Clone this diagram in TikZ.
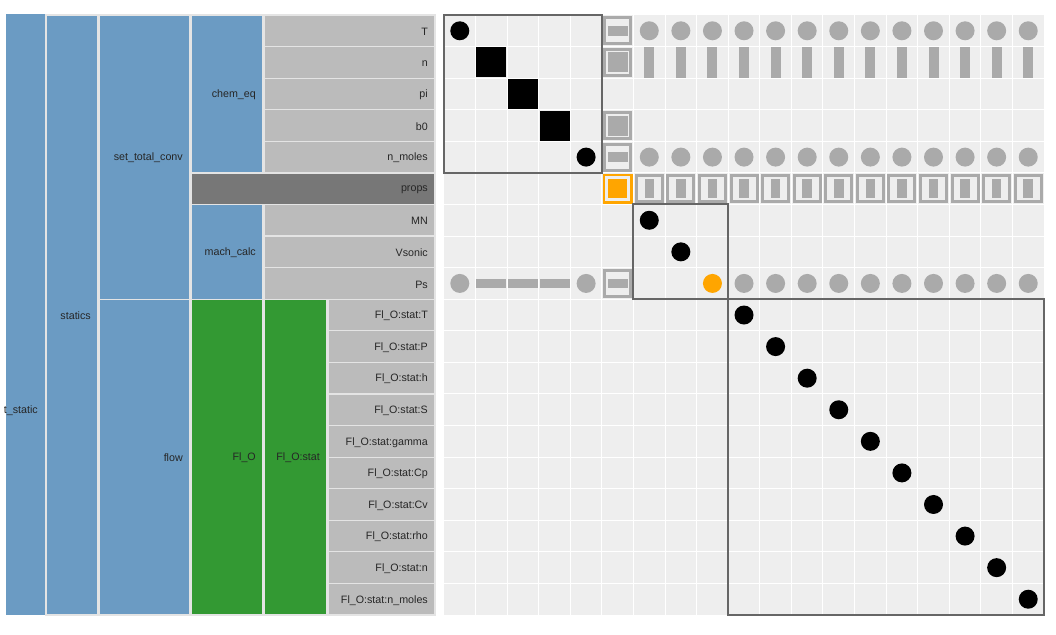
\documentclass[tikz,border=0pt]{standalone}
\usepackage{fontspec}
\setmainfont{Liberation Sans}
\usetikzlibrary{positioning}
\definecolor{treeblue}{HTML}{6B9BC3}
\definecolor{treegreen}{HTML}{339933}
\definecolor{vargrey}{HTML}{BBBBBB}
\definecolor{propgrey}{HTML}{777777}
\definecolor{cellgrey}{HTML}{EEEEEE}
\definecolor{markgrey}{HTML}{AAAAAA}
\definecolor{boxgrey}{HTML}{666666}
\definecolor{sysorange}{HTML}{FFA500}
\definecolor{sepgrey}{HTML}{E4E4E4}
\tikzset{
  treelabel/.style={font=\fontsize{10.7}{12}\selectfont, text=black!85, inner sep=0pt},
  dotblack/.style={circle, fill=black, minimum size=19pt, inner sep=0pt},
  dotgrey/.style={circle, fill=markgrey, minimum size=19pt, inner sep=0pt},
  dotorange/.style={circle, fill=sysorange, minimum size=19pt, inner sep=0pt},
  blacksq/.style={rectangle, fill=black, minimum size=30pt, inner sep=0pt},
  hbar/.style={rectangle, fill=markgrey, minimum width=20pt, minimum height=9.5pt, inner sep=0pt},
  longbar/.style={rectangle, fill=markgrey, minimum width=30pt, minimum height=9.5pt, inner sep=0pt},
  vbar/.style={rectangle, fill=markgrey, minimum width=10pt, minimum height=30.5pt, inner sep=0pt},
  shortvbar/.style={rectangle, fill=markgrey, minimum width=9.5pt, minimum height=19pt, inner sep=0pt},
  greysq/.style={rectangle, fill=markgrey, minimum size=20pt, inner sep=0pt},
  framebox/.style={rectangle, draw=markgrey, line width=3pt, fill=cellgrey, minimum size=26pt, inner sep=0pt},
  orangebox/.style={rectangle, draw=sysorange, line width=2.5pt, fill=cellgrey, minimum size=27.5pt, inner sep=0pt},
  orangesq/.style={rectangle, fill=sysorange, minimum size=19pt, inner sep=0pt},
  diagbox/.style={draw=boxgrey, line width=2pt}
}
% tree block: name, x left, x right, first row, end row, fill, label
\newcommand{\treebox}[7]{%
  \path[fill=#6, draw=sepgrey, line width=1.2pt] (#2,{15+31.58*(#4)}) rectangle (#3,{15+31.58*(#5)});
  \node[treelabel, anchor=east] (#1) at ({#3-7},{16+31.58*((#4)+(#5))/2}) {#7};}

\begin{document}
\begin{tikzpicture}[x=1pt, y=-1pt]
  \useasboundingbox (0,0) rectangle (1056,634);

  % model tree
  \fill[treeblue] (6,14) rectangle (45,615);
  \begin{scope}
    \clip (4,0) rectangle (45,634);
    \node[treelabel, anchor=east] (root) at (38,411) {t\_static};
  \end{scope}
  \treebox{statics}{46}{98}{0}{19}{treeblue}{statics}
  \treebox{conv}{99}{190}{0}{9}{treeblue}{set\_total\_conv}
  \treebox{flow}{99}{190}{9}{19}{treeblue}{flow}
  \treebox{chem}{191}{263}{0}{5}{treeblue}{chem\_eq}
  \treebox{props}{191}{435}{5}{6}{propgrey}{props}
  \treebox{mach}{191}{263}{6}{9}{treeblue}{mach\_calc}
  \treebox{flo}{191}{263}{9}{19}{treegreen}{Fl\_O}
  \treebox{flostat}{264}{327}{9}{19}{treegreen}{Fl\_O:stat}
  \foreach \lbl [count=\r from 0] in {T,n,pi,b0,n\_moles}
    {\treebox{v\r}{264}{435}{\r}{\r+1}{vargrey}{\lbl}}
  \foreach \lbl [count=\r from 6] in {MN,Vsonic,Ps}
    {\treebox{v\r}{264}{435}{\r}{\r+1}{vargrey}{\lbl}}
  \foreach \lbl [count=\r from 9] in {T,P,h,S,gamma,Cp,Cv,rho,n,n\_moles}
    {\treebox{v\r}{328}{435}{\r}{\r+1}{vargrey}{Fl\_O:stat:\lbl}}

  % N2 matrix
  \begin{scope}[shift={(444,15)}, x=31.58pt, y=-31.58pt]
    \fill[cellgrey] (0,0) rectangle (19,19);
    \foreach \k in {1,...,18} {
      \draw[white, line width=1pt] (\k,0) -- (\k,19);
      \draw[white, line width=1pt] (0,\k) -- (19,\k);
    }

    % T
    \node[dotblack] (d0) at (0.5,0.5) {};
    \node[framebox] (f0) at (5.5,0.5) {};
    \node[hbar] at (f0) {};
    \foreach \c in {6,...,18} \node[dotgrey] (t\c) at (\c+0.5,0.5) {};
    % n
    \node[blacksq] (d1) at (1.5,1.5) {};
    \node[framebox] (f1) at (5.5,1.5) {};
    \node[greysq] at (f1) {};
    \foreach \c in {6,...,18} \node[vbar] (n\c) at (\c+0.5,1.5) {};
    % pi, b0
    \node[blacksq] (d2) at (2.5,2.5) {};
    \node[blacksq] (d3) at (3.5,3.5) {};
    \node[framebox] (f3) at (5.5,3.5) {};
    \node[greysq] at (f3) {};
    % n_moles
    \node[dotblack] (d4) at (4.5,4.5) {};
    \node[framebox] (f4) at (5.5,4.5) {};
    \node[hbar] at (f4) {};
    \foreach \c in {6,...,18} \node[dotgrey] (nm\c) at (\c+0.5,4.5) {};
    % props
    \node[orangebox] (d5) at (5.5,5.5) {};
    \node[orangesq] at (d5) {};
    \foreach \c in {6,...,18} {
      \node[framebox] (p\c) at (\c+0.5,5.5) {};
      \node[shortvbar] at (p\c) {};
    }
    % mach_calc
    \node[dotblack] (d6) at (6.5,6.5) {};
    \node[dotblack] (d7) at (7.5,7.5) {};
    \node[dotorange] (d8) at (8.5,8.5) {};
    \node[dotgrey] (ps0) at (0.5,8.5) {};
    \foreach \c in {1,2,3} \node[longbar] (ps\c) at (\c+0.5,8.5) {};
    \node[dotgrey] (ps4) at (4.5,8.5) {};
    \node[framebox] (f8) at (5.5,8.5) {};
    \node[hbar] at (f8) {};
    \foreach \c in {9,...,18} \node[dotgrey] (ps\c) at (\c+0.5,8.5) {};
    % flow outputs
    \foreach \k in {9,...,18} \node[dotblack] (d\k) at (\k+0.5,\k+0.5) {};

    \draw[diagbox] (0,0) rectangle (5,5);
    \draw[diagbox] (6,6) rectangle (9,9);
    \draw[diagbox] (9,9) rectangle (19,19);
  \end{scope}
\end{tikzpicture}
\end{document}
